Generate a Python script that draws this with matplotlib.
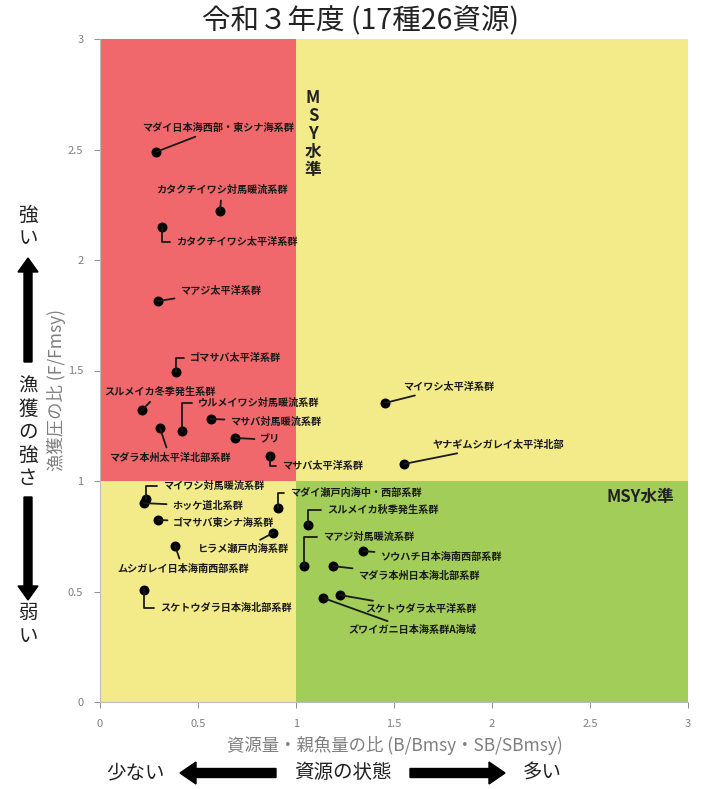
import matplotlib
matplotlib.use("Agg")
import matplotlib.pyplot as plt
from matplotlib.patches import Rectangle, FancyArrow

plt.rcParams['font.family'] = ['Noto Sans CJK JP', 'DejaVu Sans']

# ---------------- data ----------------
names = [
    "マダイ日本海西部・東シナ海系群", "カタクチイワシ対馬暖流系群", "カタクチイワシ太平洋系群",
    "マアジ太平洋系群", "ゴマサバ太平洋系群", "スルメイカ冬季発生系群", "ウルメイワシ対馬暖流系群",
    "マダラ本州太平洋北部系群", "マサバ対馬暖流系群", "ブリ", "マサバ太平洋系群",
    "マイワシ太平洋系群", "ヤナギムシガレイ太平洋北部", "マイワシ対馬暖流系群", "ホッケ道北系群",
    "ゴマサバ東シナ海系群", "ヒラメ瀬戸内海系群", "ムシガレイ日本海南西部系群",
    "スケトウダラ日本海北部系群", "マダイ瀬戸内海中・西部系群", "スルメイカ秋季発生系群",
    "マアジ対馬暖流系群", "ソウハチ日本海南西部系群", "マダラ本州日本海北部系群",
    "スケトウダラ太平洋系群", "ズワイガニ日本海系群A海域",
]
b_ratio = [0.286, 0.612, 0.316, 0.296, 0.388, 0.214, 0.418, 0.306, 0.566, 0.689, 0.867,
           1.454, 1.551, 0.235, 0.225, 0.296, 0.883, 0.383, 0.224, 0.908, 1.061,
           1.041, 1.342, 1.189, 1.224, 1.138]
f_ratio = [2.489, 2.222, 2.149, 1.814, 1.493, 1.321, 1.226, 1.240, 1.281, 1.195, 1.113,
           1.353, 1.077, 0.920, 0.900, 0.824, 0.765, 0.706, 0.507, 0.878, 0.801,
           0.615, 0.683, 0.615, 0.484, 0.471]

x_ticks = [0, 0.5, 1, 1.5, 2, 2.5, 3]
y_ticks = [0, 0.5, 1, 1.5, 2, 2.5, 3]
x_tick_labels = ["0", "0.5", "1", "1.5", "2", "2.5", "3"]
y_tick_labels = ["0", "0.5", "1", "1.5", "2", "2.5", "3"]
msy = 1.0
title = "令和３年度 (17種26資源)"
xlabel = "資源量・親魚量の比 (B/Bmsy・SB/SBmsy)"
ylabel = "漁獲圧の比 (F/Fmsy)"

# label offsets (pixels), horizontal alignment, leader style (elbow or straight)
label_offsets = [
    (62, 24, 'center', False), (2, 21, 'center', False), (14, -15, 'left', True),
    (22, 10, 'left', False), (14, 14, 'left', True), (18, 18, 'center', False),
    (16, 28, 'left', True), (10, -30, 'center', False), (19, -3, 'left', False),
    (25, -2, 'left', False), (12, -10, 'left', True), (18, 16, 'left', False),
    (29, 19, 'left', False), (17, 13, 'left', True), (28, -3, 'left', False),
    (15, -3, 'left', False), (-30, -16, 'center', False), (8, -23, 'center', False),
    (16, -18, 'left', True), (12, 15, 'left', True), (19, 15, 'left', True),
    (19, 29, 'left', True), (17, -6, 'left', False), (25, -10, 'left', False),
    (25, -14, 'left', False), (25, -32, 'left', False),
]

RED = "#F0686C"
YELLOW = "#F3EB8A"
GREEN = "#A2CD58"
GRAY = "#7f7f7f"

fig = plt.figure(figsize=(7.01, 7.89), dpi=100)
ax = fig.add_axes([100/701, 1 - 702/789, 588/701, 663/789])
ax.set_xlim(0, 3)
ax.set_ylim(0, 3)

ax.add_patch(Rectangle((0, msy), msy, 3 - msy, facecolor=RED, edgecolor='none', zorder=0))
ax.add_patch(Rectangle((msy, msy), 3 - msy, 3 - msy, facecolor=YELLOW, edgecolor='none', zorder=0))
ax.add_patch(Rectangle((0, 0), msy, msy, facecolor=YELLOW, edgecolor='none', zorder=0))
ax.add_patch(Rectangle((msy, 0), 3 - msy, msy, facecolor=GREEN, edgecolor='none', zorder=0))

ax.scatter(b_ratio, f_ratio, s=38, color='black', zorder=3)

for name, x, y, (dx, dy, ha, elbow) in zip(names, b_ratio, f_ratio, label_offsets):
    cs = "angle,angleA=0,angleB=90,rad=0" if elbow else "arc3"
    ax.annotate(name, xy=(x, y), xytext=(dx, dy), textcoords='offset pixels',
                ha=ha, va='center', fontsize=7.3, fontweight='bold', color='#1a1a1a',
                arrowprops=dict(arrowstyle='-', color='#1a1a1a', lw=1.3,
                                shrinkA=2, shrinkB=0, connectionstyle=cs), zorder=4)

ax.text(1.087, 2.57, "M\nS\nY\n水\n準", ha='center', va='center', fontsize=12,
        fontweight='bold', color='#222222', linespacing=1.0)
ax.text(2.755, 0.928, "MSY水準", ha='center', va='center', fontsize=12,
        fontweight='bold', color='#222222')

ax.set_xticks(x_ticks)
ax.set_xticklabels(x_tick_labels)
ax.set_yticks(y_ticks)
ax.set_yticklabels(y_tick_labels)
ax.tick_params(axis='both', labelsize=8, colors=GRAY, length=4, width=0.6, pad=8)
for s in ['top', 'right']:
    ax.spines[s].set_visible(False)
for s in ['left', 'bottom']:
    ax.spines[s].set_color('#bbbbbb')
    ax.spines[s].set_linewidth(0.8)

# overlay in pixel coordinates
ov = fig.add_axes([0, 0, 1, 1], facecolor='none')
ov.set_xlim(0, 701)
ov.set_ylim(789, 0)
ov.axis('off')

ov.text(360, 20, title, ha='center', va='center', fontsize=20.5, color='#222222')
ov.text(395, 745, xlabel, ha='center', va='center', fontsize=12.5, color=GRAY)
ov.text(57, 390, ylabel, ha='center', va='center', fontsize=12.5, color=GRAY, rotation=90)

# left annotations
for ch, yy in zip("強い", [215, 238]):
    ov.text(28, yy, ch, ha='center', va='center', fontsize=14, color='#222222')
for ch, yy in zip("漁獲の強さ", [386, 409, 432, 455, 478]):
    ov.text(28, yy, ch, ha='center', va='center', fontsize=14, color='#222222')
for ch, yy in zip("弱い", [612, 636]):
    ov.text(28, yy, ch, ha='center', va='center', fontsize=14, color='#222222')
ov.add_patch(FancyArrow(28, 362, 0, -104, width=8, head_width=20, head_length=14,
                        length_includes_head=True, color='black'))
ov.add_patch(FancyArrow(28, 497, 0, 103, width=8, head_width=20, head_length=14,
                        length_includes_head=True, color='black'))

# bottom annotations
ov.text(135, 773, "少ない", ha='center', va='center', fontsize=14, color='#222222')
ov.text(343, 773, "資源の状態", ha='center', va='center', fontsize=14, color='#222222')
ov.text(542, 773, "多い", ha='center', va='center', fontsize=14, color='#222222')
ov.add_patch(FancyArrow(276, 773, -96, 0, width=9, head_width=22, head_length=16,
                        length_includes_head=True, color='black'))
ov.add_patch(FancyArrow(410, 773, 95, 0, width=9, head_width=22, head_length=16,
                        length_includes_head=True, color='black'))

fig.savefig("out.png", dpi=100)
